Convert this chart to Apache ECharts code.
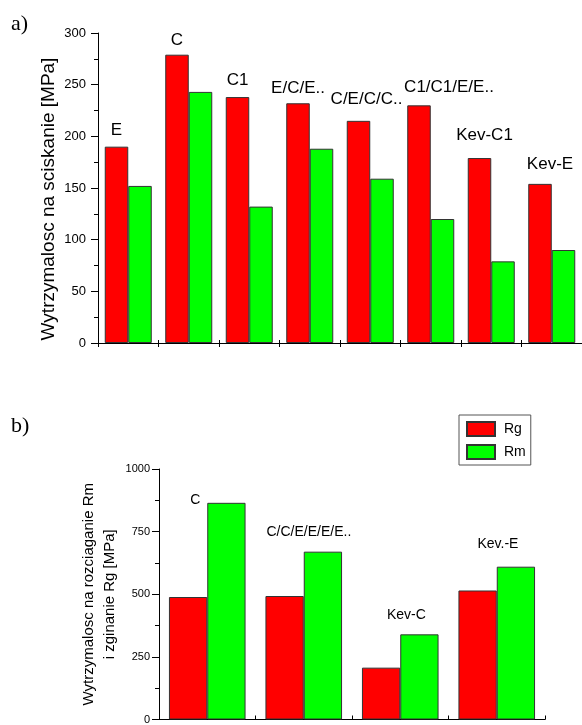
<!DOCTYPE html>
<html><head><meta charset="utf-8">
<script src="https://cdn.jsdelivr.net/npm/echarts@6/dist/echarts.min.js"></script>
<style>html,body{margin:0;padding:0;background:#fff}#c{width:582px;height:725px}</style>
</head><body><div id="c"></div>
<script>
// Chart a) compressive strength
const catsA = ['E','C','C1','E/C/E..','C/E/C/C..','C1/C1/E/E..','Kev-C1','Kev-E'];
const rgA = [190,279,238,232,215,230,179,154];
const rmA = [152,243,132,188,159,120,79,90];
// Chart b) tensile / bending strength
const catsB = ['C','C/C/E/E/E/E..','Kev-C','Kev.-E'];
const rgB = [489,493,207,515];
const rmB = [865,670,340,610];
const seriesNames = ['Rg','Rm'];

// label nudges (style only)
const offA = [[0,-3],[0,-1],[0,-3],[0,-1],[8,-8],[30,-5],[5,-9],[10,-6]];
const offB = [[-31,9],[-14,-8],[-13,-7],[-18,-11]];

const FONT = '"Liberation Sans", Arial, sans-serif';
const RED = '#ff0000', GREEN = '#00ff00', EDGE = '#333333';
const chart = echarts.init(document.getElementById('c'), null, {renderer:'canvas'});

const itemStyle = c => ({color:c, borderColor:EDGE, borderWidth:1});
const plain = v => String(v);

chart.setOption({
  animation:false,
  backgroundColor:'#fff',
  textStyle:{fontFamily:FONT, color:'#000'},
  title:[
    {text:'a)', left:6, top:8, textStyle:{fontFamily:'"Liberation Serif", "Times New Roman", serif', fontSize:22, fontWeight:'normal', color:'#000'}},
    {text:'b)', left:6, top:410, textStyle:{fontFamily:'"Liberation Serif", "Times New Roman", serif', fontSize:22, fontWeight:'normal', color:'#000'}}
  ],
  legend:{
    data:seriesNames, orient:'vertical', left:459, top:415,
    itemWidth:28, itemHeight:14, itemGap:7, icon:'rect',
    padding:[6,5,5,7], borderColor:'#555', borderWidth:1,
    textStyle:{fontFamily:FONT, fontSize:14, color:'#000', padding:[0,0,0,4]}
  },
  grid:[
    {left:98, top:33, bottom:382, right:-7, containLabel:false},
    {left:159, top:469, bottom:3, right:37, containLabel:false}
  ],
  xAxis:[
    {type:'category', gridIndex:0, data:catsA, position:'bottom',
     axisLine:{lineStyle:{color:'#000', width:1}},
     axisTick:{show:true, interval:0, length:4, lineStyle:{color:'#000'}},
     axisLabel:{show:false, interval:0}, splitLine:{show:false}},
    {type:'category', gridIndex:0, data:catsA, position:'bottom',
     axisLine:{show:false},
     axisTick:{show:true, interval:0, inside:true, length:3, lineStyle:{color:'#000'}},
     axisLabel:{show:false, interval:0}, splitLine:{show:false}},
    {type:'category', gridIndex:1, data:catsB, position:'bottom',
     axisLine:{lineStyle:{color:'#000', width:1}},
     axisTick:{show:true, interval:0, inside:true, length:4, lineStyle:{color:'#000'}},
     axisLabel:{show:false, interval:0}, splitLine:{show:false}}
  ],
  yAxis:[
    {type:'value', gridIndex:0, min:0, max:300, interval:50,
     name:'Wytrzymalosc na sciskanie [MPa]', nameLocation:'middle', nameRotate:90, nameGap:40,
     nameMoveOverlap:false,
     nameTextStyle:{fontFamily:FONT, fontSize:19, color:'#000', padding:[0,22,0,0]},
     axisLine:{show:true, lineStyle:{color:'#000'}},
     axisTick:{show:true, length:7, lineStyle:{color:'#000'}},
     minorTick:{show:true, splitNumber:2, length:4, lineStyle:{color:'#000'}},
     axisLabel:{fontFamily:FONT, fontSize:13, color:'#000', margin:12, formatter:plain},
     splitLine:{show:false}, minorSplitLine:{show:false}},
    {type:'value', gridIndex:1, min:0, max:1000, interval:250,
     name:'Wytrzymalosc na rozciaganie Rm\ni zginanie Rg [MPa]', nameLocation:'middle', nameRotate:90, nameGap:39,
     nameMoveOverlap:false,
     nameTextStyle:{fontFamily:FONT, fontSize:15, color:'#000', lineHeight:21, align:'center'},
     axisLine:{show:true, lineStyle:{color:'#000'}},
     axisTick:{show:true, length:7, lineStyle:{color:'#000'}},
     minorTick:{show:true, splitNumber:2, length:4, lineStyle:{color:'#000'}},
     axisLabel:{fontFamily:FONT, fontSize:11, color:'#000', margin:9, formatter:plain},
     splitLine:{show:false}, minorSplitLine:{show:false}}
  ],
  series:[
    {name:seriesNames[0], type:'bar', xAxisIndex:0, yAxisIndex:0, barWidth:23.5, barGap:'0%',
     itemStyle:itemStyle(RED),
     label:{show:true, position:'top', distance:5, formatter:'{b}', fontFamily:FONT, fontSize:17, color:'#000'},
     data:rgA.map((v,i)=>({value:v, label:{offset:offA[i]}}))},
    {name:seriesNames[1], type:'bar', xAxisIndex:0, yAxisIndex:0, barWidth:23.5, barGap:'0%',
     itemStyle:itemStyle(GREEN), data:rmA},
    {name:seriesNames[0], type:'bar', xAxisIndex:2, yAxisIndex:1, barWidth:38.3, barGap:'0%',
     itemStyle:itemStyle(RED), data:rgB},
    {name:seriesNames[1], type:'bar', xAxisIndex:2, yAxisIndex:1, barWidth:38.3, barGap:'0%',
     itemStyle:itemStyle(GREEN),
     label:{show:true, position:'top', distance:5, formatter:'{b}', fontFamily:FONT, fontSize:14, color:'#000'},
     data:rmB.map((v,i)=>({value:v, label:{offset:offB[i]}}))}
  ]
});
</script>
</body></html>
